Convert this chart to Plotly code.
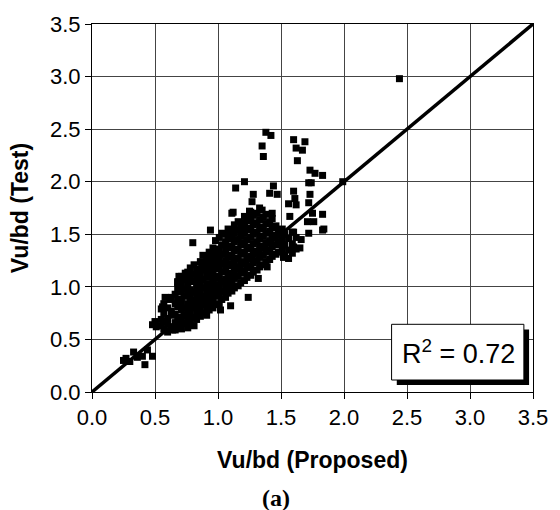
import plotly.graph_objects as go

# ---- data (Vu/bd proposed vs test) ----
# dense band, written column by column: proposed value and the test values seen in that column
band_x = [0.55, 0.57, 0.60, 0.63, 0.66, 0.68, 0.71, 0.73, 0.76, 0.78, 0.81, 0.83, 0.86, 0.88,
          0.91, 0.93, 0.96, 0.98, 1.01, 1.03, 1.06, 1.08, 1.11, 1.13, 1.16, 1.18, 1.21, 1.23,
          1.26, 1.28, 1.31, 1.33, 1.36, 1.38, 1.41, 1.43, 1.46, 1.48, 1.51, 1.53, 1.56, 1.59,
          1.62]
band_y = [
    [0.63, 0.69, 0.79],
    [0.60, 0.67, 0.75, 0.84],
    [0.57, 0.65, 0.70, 0.80],
    [0.62, 0.73, 0.77, 0.90],
    [0.59, 0.66, 0.74, 0.84, 0.93],
    [0.64, 0.71, 0.81, 0.88, 0.99, 1.05],
    [0.60, 0.69, 0.78, 0.86, 0.95, 1.02, 1.10],
    [0.65, 0.73, 0.80, 0.91, 0.98, 1.07],
    [0.61, 0.70, 0.76, 0.84, 0.93, 1.03, 1.14],
    [0.66, 0.74, 0.82, 0.89, 0.97, 1.08, 1.18],
    [0.63, 0.71, 0.80, 0.87, 0.95, 1.05, 1.12, 1.21],
    [0.69, 0.77, 0.85, 0.92, 1.01, 1.09, 1.17],
    [0.72, 0.79, 0.88, 0.96, 1.04, 1.13, 1.24],
    [0.75, 0.83, 0.91, 0.99, 1.07, 1.16, 1.21, 1.30],
    [0.73, 0.81, 0.87, 0.95, 1.03, 1.11, 1.19, 1.27],
    [0.78, 0.85, 0.92, 1.01, 1.09, 1.16, 1.25, 1.33],
    [0.80, 0.88, 0.96, 1.05, 1.13, 1.20, 1.29, 1.37],
    [0.84, 0.91, 0.99, 1.08, 1.17, 1.24, 1.33, 1.44],
    [0.83, 0.93, 1.02, 1.10, 1.19, 1.27, 1.36, 1.47],
    [0.88, 0.96, 1.05, 1.14, 1.22, 1.31, 1.40, 1.51],
    [0.90, 0.99, 1.07, 1.16, 1.25, 1.34, 1.43, 1.50],
    [0.94, 1.02, 1.11, 1.20, 1.28, 1.37, 1.46, 1.55],
    [0.96, 1.05, 1.13, 1.22, 1.30, 1.39, 1.48, 1.53],
    [0.99, 1.08, 1.17, 1.25, 1.34, 1.43, 1.51, 1.59],
    [1.01, 1.10, 1.19, 1.27, 1.36, 1.45, 1.54, 1.62],
    [1.04, 1.13, 1.22, 1.31, 1.40, 1.48, 1.57],
    [1.06, 1.15, 1.24, 1.33, 1.42, 1.51, 1.60, 1.67],
    [1.09, 1.18, 1.27, 1.36, 1.45, 1.54, 1.63],
    [1.11, 1.20, 1.29, 1.38, 1.47, 1.56, 1.65, 1.71],
    [1.14, 1.23, 1.32, 1.41, 1.50, 1.59, 1.68],
    [1.16, 1.25, 1.34, 1.43, 1.52, 1.61, 1.70],
    [1.19, 1.28, 1.37, 1.46, 1.55, 1.64, 1.75],
    [1.21, 1.30, 1.39, 1.48, 1.57, 1.66],
    [1.24, 1.33, 1.42, 1.51, 1.60, 1.69],
    [1.26, 1.35, 1.44, 1.53, 1.62],
    [1.29, 1.38, 1.47, 1.56, 1.65],
    [1.31, 1.40, 1.49, 1.58],
    [1.33, 1.43, 1.52],
    [1.36, 1.45, 1.55],
    [1.30, 1.40, 1.50],
    [1.35, 1.46],
    [1.32, 1.41, 1.52],
    [1.36, 1.47],
]

# scattered points outside the dense band
scatter_x = [1.38, 1.42, 1.35, 1.36, 1.60, 1.69, 1.62, 1.67, 1.63, 1.73, 1.77, 1.83, 1.74,
             1.21, 1.14, 1.44, 1.41, 1.47, 1.60, 1.61, 1.56, 1.62, 1.72, 1.73, 1.72, 1.28,
             1.27, 1.35, 1.43, 1.57, 1.75, 1.83, 1.71, 1.76, 1.83, 1.60, 1.72, 1.66, 1.65,
             1.60, 1.56, 1.49, 1.39, 1.11, 0.94, 0.80, 1.25, 1.21, 1.10, 1.24, 1.12, 1.99,
             1.84, 2.44,
             0.27, 0.33, 0.30, 0.42, 0.40, 0.48, 0.44, 0.51, 0.50, 0.56, 0.62, 0.64, 0.25,
             0.36, 0.48, 0.87, 0.69, 0.68, 0.58, 0.74, 1.02, 1.32, 1.52]
scatter_y = [2.47, 2.44, 2.34, 2.24, 2.40, 2.38, 2.32, 2.30, 2.20, 2.11, 2.08, 2.06, 1.99,
             2.00, 1.94, 1.96, 1.89, 1.88, 1.91, 1.84, 1.79, 1.78, 1.99, 1.88, 1.80, 1.88,
             1.81, 1.73, 1.70, 1.67, 1.70, 1.69, 1.62, 1.62, 1.54, 1.52, 1.51, 1.45, 1.37,
             1.38, 1.27, 1.42, 1.19, 1.70, 1.54, 1.42, 1.72, 1.61, 0.82, 0.90, 1.71, 2.00,
             1.55, 2.98,
             0.32, 0.38, 0.29, 0.26, 0.34, 0.34, 0.40, 0.62, 0.67, 0.81, 0.88, 0.59, 0.30,
             0.33, 0.64, 1.23, 1.10, 1.04, 0.90, 1.13, 0.78, 1.08, 1.28]

line_x = [0.0, 3.5]
line_y = [0.0, 3.5]
tick_vals = [0.0, 0.5, 1.0, 1.5, 2.0, 2.5, 3.0, 3.5]
r2_text = "R<sup>2</sup> = 0.72"

proposed = []
test = []
for bx, col in zip(band_x, band_y):
    for v in col:
        proposed.append(bx)
        test.append(v)
proposed += scatter_x
test += scatter_y

fig = go.Figure()
fig.add_trace(go.Scatter(x=proposed, y=test, mode="markers",
                         marker=dict(symbol="square", size=7, color="black"),
                         showlegend=False, hoverinfo="skip"))
fig.add_trace(go.Scatter(x=line_x, y=line_y, mode="lines",
                         line=dict(color="black", width=3.5), showlegend=False))

L, R, T, B = 92, 18, 24, 118
W, H = 560, 510
pw, ph = W - L - R, H - T - B

def px(x):
    return (x - L) / pw

def py(y):
    return (H - B - y) / ph

axis_common = dict(range=[0, 3.5], tickvals=tick_vals, tickformat=".1f",
                   showgrid=True, gridcolor="#444", gridwidth=1,
                   showline=True, linecolor="black", linewidth=1, mirror=True,
                   ticks="outside", ticklen=6, tickcolor="black",
                   tickfont=dict(family="Liberation Sans, Arial", size=22, color="black"),
                   zeroline=False, fixedrange=True)

fig.update_layout(
    width=W, height=H,
    margin=dict(l=L, r=R, t=T, b=B),
    paper_bgcolor="white", plot_bgcolor="white",
    xaxis=dict(**axis_common,
               title=dict(text="<b>Vu/bd (Proposed)</b>", standoff=22,
                          font=dict(family="Liberation Sans, Arial", size=23, color="black"))),
    yaxis=dict(**axis_common,
               title=dict(text="<b>Vu/bd (Test)</b>", standoff=14,
                          font=dict(family="Liberation Sans, Arial", size=23, color="black"))),
    shapes=[
        dict(type="rect", xref="paper", yref="paper", layer="above",
             x0=px(403), x1=px(538), y0=py(385), y1=py(329.5),
             fillcolor="black", line=dict(width=0)),
        dict(type="rect", xref="paper", yref="paper", layer="above",
             x0=px(397.7), x1=px(532.7), y0=py(380), y1=py(324.3),
             fillcolor="white", line=dict(color="black", width=1)),
    ],
    annotations=[
        dict(text=r2_text, xref="paper", yref="paper", x=px(466), y=py(352),
             xanchor="center", yanchor="middle", showarrow=False,
             font=dict(family="Liberation Sans, Arial", size=27, color="black")),
        dict(text="<b>(a)</b>", xref="paper", yref="paper", x=px(280), y=py(498),
             xanchor="center", yanchor="middle", showarrow=False,
             font=dict(family="Liberation Serif, Times New Roman", size=24, color="black")),
    ],
)

fig.write_html("out.html")
